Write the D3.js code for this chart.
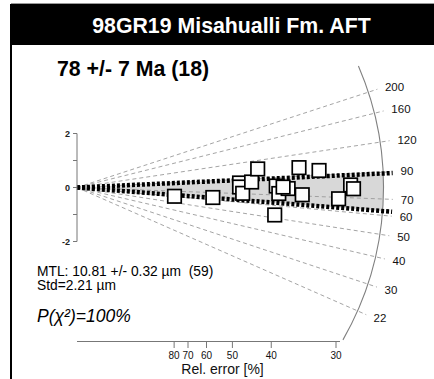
<!DOCTYPE html>
<html>
<head>
<meta charset="utf-8">
<script src="https://cdn.jsdelivr.net/npm/d3@7"></script>
<style>
  html, body { margin: 0; padding: 0; background: #fff; }
  svg { display: block; font-family: "Liberation Sans", Arial, sans-serif; }
  .pre { white-space: pre; }
</style>
</head>
<body>
<svg id="chart" width="434" height="379"></svg>
<script>
// Single-grain apatite fission-track ages (Ma) and their relative 1σ errors (%)
const grainAges = [60.2, 63.1, 84.5, 78.7, 70.5, 85.4, 104.8, 79.7, 71.6, 76.9,
                   71.1, 52.3, 100.9, 95.5, 68.9, 80.1, 77.0, 78.5];
const grainRelErr = [79.7, 57.2, 47.8, 47.8, 46.9, 44.5, 43.0, 39.0, 38.5, 36.8,
                     34.5, 39.3, 35.0, 32.1, 29.7, 28.4, 28.1, 37.7];

// Central age and the band drawn around it (Ma)
const centralAge = 78;
const bandAges = [62.5, 89];

// Age scale ticks on the arc, relative error ticks and standardised-estimate ticks
const arcTicks = [200, 160, 120, 90, 70, 60, 50, 40, 30, 22];
const arcRange = [15, 270];
const relErrTicks = [80, 70, 60, 50, 40, 30];
const zTicks = [2, 1, 0, -1, -2];
const zLabels = [2, 0, -2];

const titleText = "98GR19 Misahualli Fm. AFT";
const ageText = "78 +/- 7 Ma (18)";
const mtlText = "MTL: 10.81 +/- 0.32 \u00b5m  (59)";
const stdText = "Std=2.21 \u00b5m";
const pText = "P(\u03c7\u00b2)=100%";

const svg = d3.select("#chart");

// Frame: title bar and left rule
svg.append("line").attr("x1", 11).attr("x2", 434).attr("y1", 3.5).attr("y2", 3.5)
  .attr("stroke", "#999").attr("stroke-width", 1);
svg.append("rect").attr("x", 11).attr("y", 4).attr("width", 423).attr("height", 41).attr("fill", "#000");
svg.append("line").attr("x1", 11).attr("x2", 11).attr("y1", 4).attr("y2", 379)
  .attr("stroke", "#000").attr("stroke-width", 2);
svg.append("text").attr("x", 231.5).attr("y", 33).attr("text-anchor", "middle")
  .attr("fill", "#fff").attr("font-weight", "bold").attr("font-size", 21.3).text(titleText);

// Radial plot scales: precision (1/σ) horizontally, standardised estimate vertically
const x = d3.scaleLinear().domain([0, 100 / 30]).range([77, 336]);
const y = d3.scaleLinear().domain([-2, 2]).range([241.5, 133.5]);
const ox = x(0), oy = y(0);
const kx = x(1) - x(0), ky = y(0) - y(1);
const R = 306.5;

// screen angle (radians, counter-clockwise) of the line through the origin for an age
const angleOf = t => Math.atan(ky * Math.log(t / centralAge) / kx);
const polar = (t, r) => [ox + r * Math.cos(angleOf(t)), oy - r * Math.sin(angleOf(t))];

const g = svg.append("g");

// shaded band between the two bounding lines, closed by the arc
const bandPath = d3.path();
bandPath.moveTo(ox, oy);
const pu = polar(bandAges[1], R);
bandPath.lineTo(pu[0], pu[1]);
bandPath.arc(ox, oy, R, -angleOf(bandAges[1]), -angleOf(bandAges[0]), false);
bandPath.closePath();
g.append("path").attr("d", bandPath.toString()).attr("fill", "#d8d8d8");

// dashed age lines
g.selectAll("line.age").data(arcTicks).join("line").attr("class", "age")
  .attr("x1", ox).attr("y1", oy)
  .attr("x2", d => polar(d, 316)[0]).attr("y2", d => polar(d, 316)[1])
  .attr("stroke", "#9a9a9a").attr("stroke-width", 0.9).attr("stroke-dasharray", "4,3");

// arc
const arcPath = d3.path();
arcPath.arc(ox, oy, R, -angleOf(arcRange[1]), -angleOf(arcRange[0]), false);
g.append("path").attr("d", arcPath.toString()).attr("fill", "none")
  .attr("stroke", "#808080").attr("stroke-width", 1.1);

// arc labels
g.selectAll("text.age").data(arcTicks).join("text").attr("class", "age")
  .attr("x", d => polar(d, 324)[0]).attr("y", d => polar(d, 324)[1])
  .attr("dominant-baseline", "central").attr("font-size", 11.5).attr("fill", "#111")
  .text(d => d);

// bounding lines of the band
g.selectAll("line.band").data(bandAges).join("line").attr("class", "band")
  .attr("x1", ox).attr("y1", oy)
  .attr("x2", d => polar(d, 316)[0]).attr("y2", d => polar(d, 316)[1])
  .attr("stroke", "#000").attr("stroke-width", 4.5).attr("stroke-dasharray", "3,2");

// vertical axis
g.append("line").attr("x1", ox).attr("x2", ox).attr("y1", y(2)).attr("y2", y(-2))
  .attr("stroke", "#777").attr("stroke-width", 1);
g.selectAll("line.zt").data(zTicks).join("line").attr("class", "zt")
  .attr("x1", ox - 4).attr("x2", ox).attr("y1", d => y(d)).attr("y2", d => y(d))
  .attr("stroke", "#777").attr("stroke-width", 1);
g.selectAll("text.zt").data(zLabels).join("text").attr("class", "zt")
  .attr("x", ox - 7).attr("y", d => y(d)).attr("text-anchor", "end")
  .attr("dominant-baseline", "central").attr("font-size", 9).attr("font-weight", "bold")
  .attr("fill", "#222").text(d => d);

// horizontal relative-error axis
const axY = 341.5;
g.append("line").attr("x1", ox).attr("x2", 340).attr("y1", axY).attr("y2", axY)
  .attr("stroke", "#777").attr("stroke-width", 1);
g.selectAll("line.re").data(relErrTicks).join("line").attr("class", "re")
  .attr("x1", d => x(100 / d)).attr("x2", d => x(100 / d)).attr("y1", axY).attr("y2", axY + 6.5)
  .attr("stroke", "#777").attr("stroke-width", 1);
g.selectAll("text.re").data(relErrTicks).join("text").attr("class", "re")
  .attr("x", d => x(100 / d)).attr("y", 359).attr("text-anchor", "middle")
  .attr("font-size", 10).attr("fill", "#111").text(d => d);
g.append("text").attr("x", 222.5).attr("y", 374).attr("text-anchor", "middle")
  .attr("font-size", 14).attr("fill", "#111").text("Rel. error [%]");

// grains
const grains = grainAges.map((t, i) => {
  const prec = 100 / grainRelErr[i];
  return { px: x(prec), py: y(prec * Math.log(t / centralAge)) };
});
const s = 13.5;
g.selectAll("rect.grain").data(grains).join("rect").attr("class", "grain")
  .attr("x", d => d.px - s / 2).attr("y", d => d.py - s / 2)
  .attr("width", s).attr("height", s)
  .attr("fill", "#fff").attr("stroke", "#000").attr("stroke-width", 1.7);

// annotations
svg.append("text").attr("x", 57).attr("y", 76).attr("font-size", 21.3).attr("font-weight", "bold")
  .attr("fill", "#000").text(ageText);
svg.append("text").attr("class", "pre").attr("x", 37).attr("y", 275.5).attr("font-size", 13.8)
  .attr("fill", "#000").text(mtlText);
svg.append("text").attr("x", 37).attr("y", 289.5).attr("font-size", 13.8).attr("fill", "#000").text(stdText);
svg.append("text").attr("x", 37).attr("y", 322).attr("font-size", 17.5).attr("font-style", "italic")
  .attr("fill", "#000").text(pText);
</script>
</body>
</html>
